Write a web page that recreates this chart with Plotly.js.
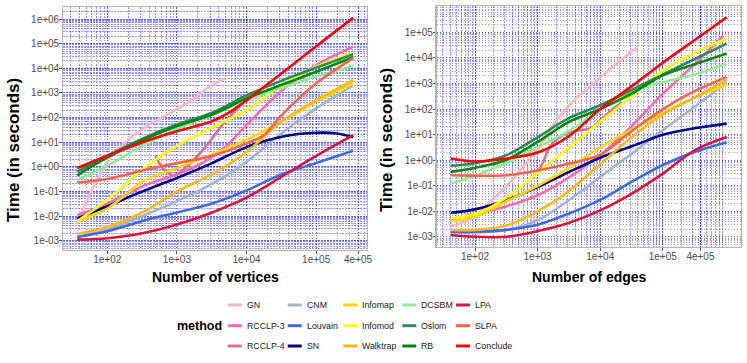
<!DOCTYPE html>
<html>
<head>
<meta charset="utf-8">
<script src="https://cdn.plot.ly/plotly-3.0.1.min.js"></script>
<style>html,body{margin:0;padding:0;background:#fff;}#chart{width:747px;height:363px;}</style>
</head>
<body>
<div id="chart"></div>
<script>
// ---------- categories / styling lists ----------
const methods = ['GN','RCCLP-3','RCCLP-4','CNM','Louvain','SN','Infomap','Infomod','Walktrap','DCSBM','Oslom','RB','LPA','SLPA','Conclude'];
const methodColors = ['#FFB6C1','#FF69B4','#DB7093','#A2B5CD','#4169E1','#00008B','#FFD700','#FFFF00','#FFB90F','#90EE90','#2E8B57','#008B00','#DC143C','#FF6347','#FF0000'];

// ---------- tick labels ----------
const yTickVals = [1e-3,1e-2,1e-1,1,10,100,1e3,1e4,1e5,1e6];
const yTickText = ['1e-03','1e-02','1e-01','1e+00','1e+01','1e+02','1e+03','1e+04','1e+05','1e+06'];
const xTickVals = [100,1000,1e4,1e5,4e5];
const xTickText = ['1e+02','1e+03','1e+04','1e+05','4e+05'];

// ---------- panel 1: time vs number of vertices ----------
const vX = [37,100,320,1000,3200,10000,32000,100000,340000];
const v_GN_x = [37,54,76,105,200,320,870,1740,2700,5000];
const v_GN_y = [0.0048,0.063,0.4,2.0,12.6,35,174,600,1550,4000];
const v_RCCLP3_x = [37,100,320,1000,1800,3200,5600,10000,32000,100000,340000];
const v_RCCLP3_y = [0.011,0.032,0.16,0.5,1.0,2.5,8.9,50,1260,13500,76000];
const v_RCCLP4_x = [490,630,890,1260,1780,2700,4200,6500,10000];
const v_RCCLP4_y = [2.8,0.85,0.45,0.79,2.0,7.6,40,158,560];
const v_CNM_y = [0.0014,0.0028,0.01,0.04,0.2,1.58,23,234,2040];
const v_Louvain_y = [0.0014,0.0024,0.0063,0.014,0.032,0.11,0.5,1.41,4.5];
const v_SN_x = [37,100,320,1000,3200,10000,32000,100000,200000,340000];
const v_SN_y = [0.0079,0.025,0.1,0.35,1.41,6.3,16.6,24,22.4,15.8];
const v_Infomap_y = [0.0058,0.02,0.25,0.89,3.2,12.6,71,440,2570];
const v_Infomod_y = [0.0063,0.045,0.79,7.1,40,200,2000,11700,41000];
const v_Walktrap_y = [0.0019,0.0036,0.014,0.1,0.5,4.0,71,510,3300];
const v_DCSBM_y = [0.29,1.12,7.1,35,126,525,1580,4600,12300];
const v_Oslom_y = [0.63,2.8,14,52,158,790,3160,10500,37000];
const v_RB_y = [0.45,2.4,12,45,132,600,2140,7200,28000];
const v_LPA_y = [0.0011,0.00126,0.002,0.0045,0.014,0.056,0.4,2.8,19.5];
const v_SLPA_x = [37,100,320,1000,3200,10000,18000,32000,100000,340000];
const v_SLPA_y = [0.23,0.32,0.71,1.41,2.8,8.9,20,126,2450,25700];
const v_Conclude_x = [37,100,320,1000,3200,5600,10000,32000,100000,340000];
const v_Conclude_y = [0.89,2.8,10,28,71,158,500,6300,79000,1120000];

// ---------- panel 2: time vs number of edges ----------
const eX = [41,100,320,1000,3200,10000,32000,100000,320000,1050000];
const e_GN_x = [41,100,160,320,525,1000,2000,4200,7800,21000,38000];
const e_GN_y = [0.0025,0.0063,0.02,0.1,0.4,2.8,36,280,1000,7900,25000];
const e_RCCLP3_x = [41,100,320,1000,3200,10000,32000,100000,320000,930000];
const e_RCCLP3_y = [0.005,0.0079,0.016,0.043,0.22,1.58,22,400,5600,76000];
const e_RCCLP4_x = [1000,1260,1580,2240,4000,7100,10000,15800,22400];
const e_RCCLP4_y = [0.3,1.0,3.5,7.9,14,17.8,35,100,178];
const e_CNM_y = [0.0015,0.0015,0.0019,0.0045,0.028,0.22,1.82,14.8,120,1120];
const e_Louvain_y = [0.0016,0.0016,0.0019,0.003,0.0083,0.028,0.145,0.65,2.1,5.1];
const e_SN_y = [0.0089,0.012,0.028,0.089,0.35,1.26,3.5,10,17.8,27];
const e_Infomap_y = [0.004,0.0063,0.025,0.1,0.5,3.2,16,71,280,890];
const e_Infomod_y = [0.0054,0.0079,0.035,0.32,3.2,32,320,3200,15800,56000];
const e_Walktrap_y = [0.0019,0.0019,0.0028,0.01,0.063,0.71,7.9,63,280,1410];
const e_DCSBM_y = [0.12,0.25,0.79,3.2,14,89,500,1120,2240,6000];
const e_Oslom_y = [0.6,0.76,1.58,7.9,45,141,560,2240,8900,36000];
const e_RB_y = [0.35,0.5,1.05,5.2,32,100,400,2100,5600,14800];
const e_LPA_y = [0.0012,0.00102,0.00102,0.0017,0.0036,0.011,0.05,0.3,2.45,8.1];
const e_SLPA_y = [0.26,0.25,0.26,0.4,0.74,1.66,14,100,500,1820];
const e_Conclude_y = [1.17,0.89,1.17,2.0,8.9,100,790,6500,49000,390000];

const vertSeries = [
  [v_GN_x, v_GN_y],[v_RCCLP3_x, v_RCCLP3_y],[v_RCCLP4_x, v_RCCLP4_y],
  [vX, v_CNM_y],[vX, v_Louvain_y],[v_SN_x, v_SN_y],
  [vX, v_Infomap_y],[vX, v_Infomod_y],[vX, v_Walktrap_y],
  [vX, v_DCSBM_y],[vX, v_Oslom_y],[vX, v_RB_y],
  [vX, v_LPA_y],[v_SLPA_x, v_SLPA_y],[v_Conclude_x, v_Conclude_y]
];
const edgeSeries = [
  [e_GN_x, e_GN_y],[e_RCCLP3_x, e_RCCLP3_y],[e_RCCLP4_x, e_RCCLP4_y],
  [eX, e_CNM_y],[eX, e_Louvain_y],[eX, e_SN_y],
  [eX, e_Infomap_y],[eX, e_Infomod_y],[eX, e_Walktrap_y],
  [eX, e_DCSBM_y],[eX, e_Oslom_y],[eX, e_RB_y],
  [eX, e_LPA_y],[eX, e_SLPA_y],[eX, e_Conclude_y]
];

const traces = [];
methods.forEach((m, i) => {
  traces.push({x: vertSeries[i][0], y: vertSeries[i][1], name: m, xaxis: 'x', yaxis: 'y',
    type: 'scatter', mode: 'lines', line: {color: methodColors[i], width: 2.6, shape: 'spline', smoothing: 0.9}, showlegend: false});
});
methods.forEach((m, i) => {
  traces.push({x: edgeSeries[i][0], y: edgeSeries[i][1], name: m, xaxis: 'x2', yaxis: 'y2',
    type: 'scatter', mode: 'lines', line: {color: methodColors[i], width: 2.6, shape: 'spline', smoothing: 0.9}, showlegend: false});
});

// minor grid positions (2..9 within each decade)
function minorVals(lo, hi) {
  const out = [];
  for (let d = lo; d <= hi; d++) for (let k = 2; k <= 9; k++) out.push(k * Math.pow(10, d));
  return out;
}

const W = 747, H = 363;
const px = v => v / W, py = v => 1 - v / H;

const gridMajor = 'rgba(20,20,255,0.7)';
const gridMinor = 'rgba(20,20,255,0.45)';
const gridDash = '1.5px,1.5px';
function axisBase(extra) {
  return Object.assign({
    type: 'log', showline: true, mirror: true, linecolor: '#B5B5B5', linewidth: 1.3,
    showgrid: true, gridcolor: gridMajor, griddash: gridDash, gridwidth: 1,
    ticks: 'outside', ticklen: 2.5, tickcolor: '#555', tickwidth: 1,
    tickfont: {family: 'Liberation Sans, Arial, sans-serif', size: 10, color: '#4D4D4D'},
    zeroline: false, automargin: false, fixedrange: true
  }, extra);
}
function minorGrid(lo, hi) {
  return {tickmode: 'array', tickvals: minorVals(lo, hi), showgrid: true, gridcolor: gridMinor, griddash: gridDash, gridwidth: 1, ticks: ''};
}

const layout = {
  width: W, height: H,
  margin: {l: 0, r: 0, t: 0, b: 0},
  paper_bgcolor: '#fff', plot_bgcolor: '#fff',
  showlegend: false,
  xaxis: axisBase({domain: [px(63), px(367)], anchor: 'y', range: [1.364, 5.73],
    tickmode: 'array', tickvals: xTickVals, ticktext: xTickText, ticklabelstandoff: -3, minor: minorGrid(1, 5)}),
  yaxis: axisBase({domain: [py(250), py(7)], anchor: 'x', range: [-3.38, 6.49],
    tickmode: 'array', tickvals: yTickVals, ticktext: yTickText, ticklabelstandoff: -2, minor: minorGrid(-4, 6)}),
  xaxis2: axisBase({domain: [px(436.7), px(741)], anchor: 'y2', range: [1.388, 6.25],
    tickmode: 'array', tickvals: xTickVals, ticktext: xTickText, ticklabelstandoff: -3, minor: minorGrid(1, 6)}),
  yaxis2: axisBase({domain: [py(246.7), py(6)], anchor: 'x2', range: [-3.38, 6.03],
    tickmode: 'array', tickvals: yTickVals.slice(0, 9), ticktext: yTickText.slice(0, 9), ticklabelstandoff: -2, minor: minorGrid(-4, 6)}),
  annotations: [],
  shapes: []
};

const titleFont = {family: 'Liberation Sans, Arial, sans-serif', size: 14, color: '#000', weight: 'bold'};
const yTitleFont = {family: 'Liberation Sans, Arial, sans-serif', size: 17, color: '#000', weight: 'bold'};
layout.annotations.push(
  {text: 'Number of vertices', xref: 'paper', yref: 'paper', x: px(215), y: py(277), xanchor: 'center', yanchor: 'middle', showarrow: false, font: titleFont},
  {text: 'Number of edges', xref: 'paper', yref: 'paper', x: px(589), y: py(277), xanchor: 'center', yanchor: 'middle', showarrow: false, font: titleFont},
  {text: 'Time (in seconds)', xref: 'paper', yref: 'paper', x: px(14), y: py(150), xanchor: 'center', yanchor: 'middle', textangle: -90, showarrow: false, font: yTitleFont},
  {text: 'Time (in seconds)', xref: 'paper', yref: 'paper', x: px(386), y: py(140), xanchor: 'center', yanchor: 'middle', textangle: -90, showarrow: false, font: yTitleFont},
  {text: 'method', xref: 'paper', yref: 'paper', x: px(199), y: py(326), xanchor: 'center', yanchor: 'middle', showarrow: false,
   font: {family: 'Liberation Sans, Arial, sans-serif', size: 12.5, color: '#000', weight: 'bold'}}
);

// custom legend: 5 columns x 3 rows, column-major like ggplot
const legColX = [227.7, 287.7, 343.3, 402.3, 456];
const legRowY = [305, 325.7, 346];
methods.forEach((m, i) => {
  const c = Math.floor(i / 3), r = i % 3;
  const x0 = legColX[c], y0 = legRowY[r];
  layout.shapes.push({type: 'line', xref: 'paper', yref: 'paper', x0: px(x0), x1: px(x0 + 14), y0: py(y0), y1: py(y0),
    line: {color: methodColors[i], width: 3}});
  layout.annotations.push({text: m, xref: 'paper', yref: 'paper', x: px(x0 + 17), y: py(y0), xanchor: 'left', yanchor: 'middle',
    showarrow: false, font: {family: 'Liberation Sans, Arial, sans-serif', size: 8.8, color: '#1A1A1A'}});
});

Plotly.newPlot('chart', traces, layout, {displayModeBar: false, staticPlot: true});
</script>
</body>
</html>
